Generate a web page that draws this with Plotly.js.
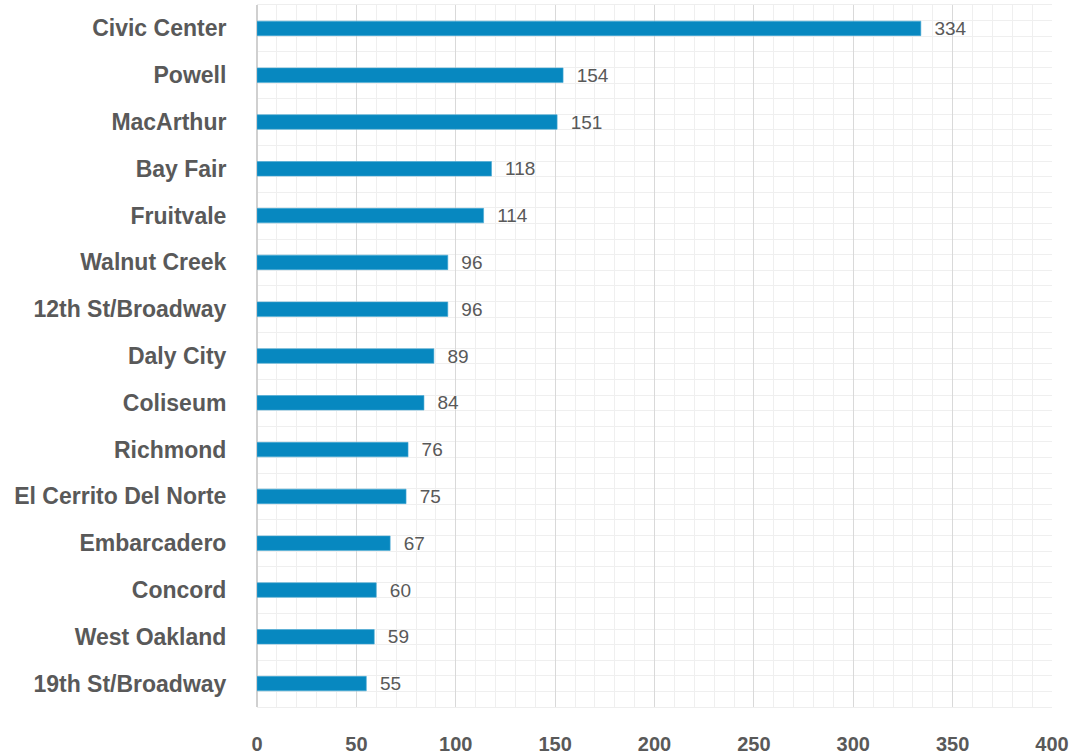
<!DOCTYPE html>
<html>
<head>
<meta charset="utf-8">
<script src="https://cdn.plot.ly/plotly-3.0.1.min.js"></script>
<style>html,body{margin:0;padding:0;background:#fff;}#chart{width:1077px;height:754px;}</style>
</head>
<body>
<div id="chart"></div>
<script>
// Categories from top to bottom
const stations = ["Civic Center", "Powell", "MacArthur", "Bay Fair", "Fruitvale", "Walnut Creek", "12th St/Broadway", "Daly City", "Coliseum", "Richmond", "El Cerrito Del Norte", "Embarcadero", "Concord", "West Oakland", "19th St/Broadway"];
const counts = [334, 154, 151, 118, 114, 96, 96, 89, 84, 76, 75, 67, 60, 59, 55];
const xTicks = [0, 50, 100, 150, 200, 250, 300, 350, 400];

const idx = stations.map((_, i) => i);
const n = stations.length;

const trace = {
  type: 'bar',
  orientation: 'h',
  x: counts,
  y: idx,
  width: 0.31,
  marker: {color: '#0788c0', line: {color: '#4aa9d4', width: 0.6}},
  text: counts.map(String),
  texttemplate: '\u00a0\u00a0%{text}',
  textposition: 'outside',
  constraintext: 'none',
  cliponaxis: false,
  textfont: {family: 'Liberation Sans, Arial, sans-serif', size: 19, color: '#595959'},
  hoverinfo: 'x+y'
};

const layout = {
  width: 1077, height: 754,
  margin: {l: 257, r: 25, t: 5, b: 47},
  paper_bgcolor: '#ffffff', plot_bgcolor: '#ffffff',
  showlegend: false,
  bargap: 0,
  xaxis: {
    range: [0, 400],
    tickmode: 'array', tickvals: xTicks, ticktext: xTicks.map(String),
    showgrid: true, gridcolor: '#d9d9d9', gridwidth: 1,
    minor: {dtick: 10, tick0: 0, showgrid: true, gridcolor: '#efefef', gridwidth: 1},
    zeroline: true, zerolinecolor: '#d0d0d0', zerolinewidth: 2,
    showline: true, linecolor: '#eeeeee', mirror: true,
    ticks: 'outside', ticklen: 19, tickcolor: 'rgba(0,0,0,0)',
    tickfont: {family: 'Liberation Sans, Arial, sans-serif', size: 20, color: '#595959', weight: 'bold'},
    fixedrange: true
  },
  yaxis: {
    range: [n - 0.5, -0.5],
    tickmode: 'array', tickvals: idx, ticktext: stations,
    showgrid: false,
    minor: {tick0: -0.5, dtick: 1/3, showgrid: true, gridcolor: '#efefef', gridwidth: 1},
    zeroline: false,
    showline: false,
    ticks: 'outside', ticklen: 25, tickcolor: 'rgba(0,0,0,0)',
    tickfont: {family: 'Liberation Sans, Arial, sans-serif', size: 23, color: '#595959', weight: 'bold'},
    fixedrange: true
  }
};

Plotly.newPlot('chart', [trace], layout, {displayModeBar: false, staticPlot: true});
</script>
</body>
</html>
